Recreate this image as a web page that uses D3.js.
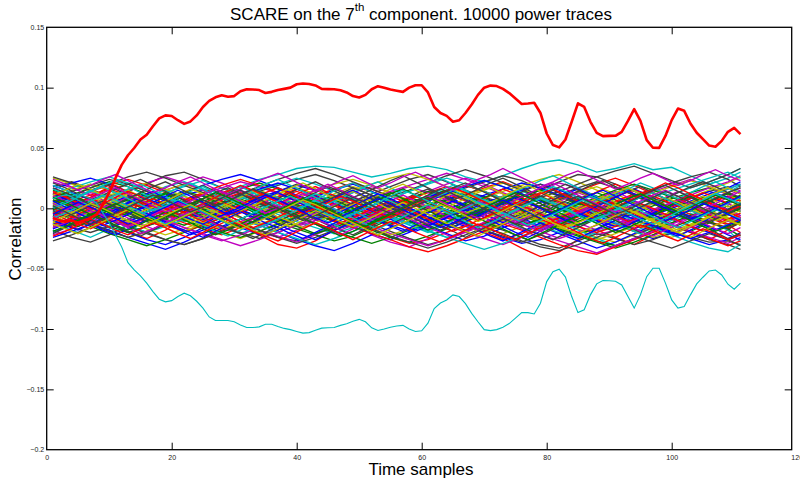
<!DOCTYPE html>
<html lang="en">
    <head>
        <meta charset="utf-8">
        <script type="text/javascript" src="https://cdn.jsdelivr.net/npm/d3@7"></script>
        <title>SCARE correlation</title>
        <style type="text/css">
            body { margin: 0; background: #fff; }
            text { font-family: "Liberation Sans", Arial, Helvetica, sans-serif; }
        </style>
    </head>
    <body>
        <script type="text/javascript">
            var w = 800;
            var h = 482;

            // correct key guess (thick red) and its mirrored trace (cyan), samples 1..111
            var keyTrace = [-0.008,-0.010,-0.011,-0.010,-0.012,-0.010,-0.008,-0.005,0.003,0.013,
                0.025,0.036,0.044,0.050,0.057,0.061,0.068,0.0745,0.077,0.0765,
                0.073,0.070,0.072,0.077,0.084,0.089,0.092,0.0937,0.0925,0.093,
                0.097,0.0987,0.0985,0.098,0.0956,0.0965,0.098,0.099,0.100,0.1028,
                0.1034,0.103,0.1018,0.099,0.0988,0.0987,0.0978,0.096,0.093,0.0918,
                0.094,0.0987,0.1012,0.100,0.0985,0.0975,0.0965,0.100,0.102,0.102,
                0.096,0.084,0.079,0.0766,0.0717,0.073,0.079,0.086,0.094,0.100,
                0.1017,0.1013,0.099,0.0955,0.091,0.0865,0.0869,0.0875,0.079,0.062,
                0.0524,0.0505,0.057,0.0717,0.087,0.084,0.0717,0.0626,0.0598,0.060,
                0.0601,0.0634,0.0725,0.0822,0.0725,0.0565,0.0502,0.0501,0.060,0.0731,
                0.0827,0.0808,0.0703,0.0626,0.0573,0.052,0.051,0.0559,0.0634,0.0667,
                0.0615];

            var mirrorTrace = [0.008,0.010,0.011,0.010,0.012,0.010,0.008,0.004,-0.004,-0.012,
                -0.022,-0.032,-0.045,-0.051,-0.056,-0.062,-0.069,-0.0753,-0.0775,-0.0765,
                -0.073,-0.0703,-0.0725,-0.077,-0.0827,-0.090,-0.093,-0.093,-0.093,-0.094,
                -0.0966,-0.0988,-0.0988,-0.0982,-0.096,-0.096,-0.098,-0.0995,-0.1005,-0.102,
                -0.1034,-0.103,-0.101,-0.0993,-0.099,-0.0988,-0.097,-0.0957,-0.0935,-0.092,
                -0.094,-0.099,-0.1012,-0.100,-0.0985,-0.0975,-0.097,-0.100,-0.102,-0.1015,
                -0.0952,-0.083,-0.0785,-0.0759,-0.0717,-0.0731,-0.079,-0.087,-0.094,-0.1005,
                -0.1013,-0.1005,-0.0985,-0.0955,-0.091,-0.0864,-0.0864,-0.0875,-0.0786,-0.0607,
                -0.0525,-0.0505,-0.057,-0.0731,-0.0864,-0.0841,-0.0717,-0.0626,-0.0599,-0.060,
                -0.0604,-0.0635,-0.0731,-0.0827,-0.0717,-0.0566,-0.0496,-0.0496,-0.062,-0.0759,
                -0.0827,-0.0814,-0.0717,-0.0626,-0.0571,-0.0519,-0.0511,-0.0552,-0.0629,-0.067,
                -0.062];

            // wrong key guesses, read every 3rd sample, values in units of 0.001
            var noiseX = [1,4,7,10,13,16,19,22,25,28,31,34,37,40,43,46,49,52,55,58,61,64,67,70,73,76,79,82,85,88,91,94,97,100,103,106,109,111];
            var noiseTraces = [
                [5,12,8,-3,-10,-6,4,11,15,9,-2,-12,-18,-10,2,8,14,6,-4,-9,-3,7,13,10,0,-8,-15,-11,-2,6,12,16,9,-1,-7,-12,-5,3],
                [-8,-4,3,9,6,-2,-9,-14,-8,1,7,12,9,2,-5,-11,-16,-12,-4,3,10,15,11,4,-3,-9,-6,2,8,13,7,-1,-8,-14,-19,-12,-3,4],
                [12,6,-3,-12,-20,-25,-18,-8,2,-5,-14,-22,-30,-33,-27,-18,-10,-16,-24,-29,-26,-20,-14,-18,-25,-33,-40,-36,-26,-18,-24,-30,-22,-14,-20,-26,-18,-10],
                [8,14,20,15,6,10,18,22,16,12,18,24,28,33,35,34,30,26,29,33,35,32,26,22,27,33,38,40,36,30,33,37,32,34,27,20,25,30],
                [-15,-10,-2,6,14,20,16,8,0,-6,-14,-20,-24,-18,-10,-4,-12,-22,-28,-32,-25,-16,-8,-2,6,12,4,-6,-15,-22,-18,-10,-3,5,11,6,-2,-8],
                [2,-6,-12,-18,-24,-20,-12,-4,4,10,6,-2,-8,-3,5,12,18,14,6,-1,-7,-12,-6,2,8,4,-4,-10,-17,-24,-28,-22,-14,-6,0,-5,-10,-4],
                [18,22,16,10,14,20,27,30,24,17,12,8,14,20,16,10,6,12,18,24,28,22,15,9,5,10,16,22,28,26,20,14,8,4,9,14,18,12],
                [-20,-14,-6,-12,-20,-26,-30,-24,-16,-10,-16,-22,-18,-10,-4,-9,-15,-21,-26,-20,-13,-7,-12,-18,-24,-29,-26,-20,-14,-8,-13,-19,-25,-21,-15,-20,-26,-22],
                [10,4,-2,-8,-4,3,9,14,10,4,-2,-7,-12,-17,-22,-27,-23,-16,-9,-4,2,7,12,8,2,-4,-10,-16,-21,-17,-10,-4,2,8,13,17,12,6],
                [-2,3,9,15,20,14,7,1,-5,-10,-4,3,10,16,11,4,-3,-9,-14,-8,-1,5,11,17,22,16,8,0,-7,-2,5,11,16,10,3,-4,-10,-6],
                [-12,-18,-24,-17,-9,-3,3,-3,-10,-16,-21,-15,-8,-2,5,11,6,-1,-8,-14,-19,-24,-19,-12,-5,1,-4,-11,-18,-25,-31,-26,-18,-10,-4,-11,-18,-28],
                [14,9,3,-2,4,10,15,20,26,21,14,7,2,-4,1,7,13,18,13,6,0,-6,-11,-5,2,9,15,21,17,10,4,-2,-8,-3,4,10,16,20],
                [-5,1,7,3,-3,-9,-15,-10,-3,4,10,15,9,3,-3,-8,-2,5,11,6,-1,-7,-13,-18,-12,-5,2,8,13,18,12,5,-2,-9,-15,-10,-3,2],
                [-18,-24,-28,-22,-14,-20,-26,-30,-25,-18,-12,-18,-24,-27,-21,-14,-8,-13,-19,-25,-30,-26,-19,-13,-18,-24,-30,-33,-27,-21,-25,-30,-26,-20,-24,-28,-27,-30],
                [0,-6,-11,-16,-11,-5,1,6,11,5,-1,-7,-3,4,10,15,20,14,7,0,-5,-10,-15,-20,-14,-7,0,6,1,-6,-12,-17,-11,-4,3,9,4,-2],
                [6,11,17,22,18,12,6,0,-6,-2,5,11,7,1,-5,-10,-15,-9,-2,5,10,15,19,14,8,2,-4,-9,-4,3,9,4,-3,-9,-14,-8,-1,5],
                [-10,-15,-8,-1,5,0,-6,-12,-17,-22,-16,-9,-3,3,8,2,-4,-10,-6,1,7,12,6,0,-6,-12,-18,-14,-7,0,6,12,7,1,-5,-11,-16,-12],
                [3,-3,-8,-4,2,8,13,18,23,17,10,3,-3,-9,-5,2,8,3,-4,-10,-16,-11,-4,3,9,14,9,3,-3,-9,-14,-19,-13,-6,1,7,13,19],
                [22,17,11,5,0,-6,-1,6,12,17,22,18,12,6,0,-5,-11,-6,1,8,14,20,25,20,13,7,1,-5,-11,-7,0,7,14,19,24,18,11,15],
                [-14,-9,-3,3,9,4,-2,-8,-14,-20,-25,-19,-12,-6,0,-5,-11,-17,-12,-5,1,-4,-10,-16,-21,-15,-8,-2,4,-1,-7,-13,-19,-24,-18,-11,-5,-9],
                [8,14,19,24,20,14,8,3,-2,4,9,14,19,24,28,23,17,11,6,1,6,12,17,22,27,23,16,10,4,-1,4,10,16,21,26,30,24,18],
                [-24,-19,-13,-18,-24,-29,-34,-28,-21,-15,-9,-14,-20,-26,-31,-35,-29,-22,-16,-10,-15,-21,-27,-23,-16,-10,-15,-21,-27,-33,-28,-21,-14,-19,-25,-30,-26,-20],
                [15,10,4,-1,-6,-11,-6,0,6,11,16,21,16,10,4,-1,-7,-3,3,9,4,-2,-8,-3,3,9,15,11,5,-1,-7,-12,-17,-12,-6,0,6,11],
                [4,9,14,19,24,19,13,7,13,19,24,19,13,7,1,-5,-10,-5,1,7,13,18,13,7,1,-4,2,8,14,20,25,19,12,6,0,5,10,6],
                [-6,0,6,12,7,1,-5,-11,-6,0,6,1,-5,-11,-16,-21,-16,-10,-4,2,8,13,8,2,-4,-10,-15,-20,-25,-20,-13,-7,-1,5,-1,-7,-13,-9],
                [11,5,-1,-7,-12,-8,-2,4,-1,-7,-13,-18,-23,-28,-22,-15,-8,-2,4,-2,-8,-14,-20,-25,-30,-24,-17,-10,-4,2,-3,-9,-15,-21,-16,-10,-4,1],
                [25,20,14,8,3,9,15,20,15,9,3,-2,3,9,15,20,24,19,13,7,2,-3,2,8,14,19,24,28,22,15,9,3,-2,3,9,15,21,26],
                [-1,-7,-13,-19,-24,-19,-13,-7,-1,5,11,6,0,-6,-12,-18,-13,-7,-1,5,0,-6,-12,-18,-23,-28,-22,-15,-9,-3,3,-2,-8,-14,-20,-26,-30,-34],
                [16,21,25,20,14,8,2,-3,-8,-3,3,9,14,19,15,9,3,-2,-7,-12,-7,-1,5,11,16,21,17,11,5,-1,-6,-11,-6,0,6,12,17,22],
                [-16,-11,-5,1,7,2,-4,-10,-15,-20,-24,-19,-13,-7,-1,-6,-12,-18,-24,-28,-23,-17,-11,-5,0,-5,-11,-17,-22,-27,-31,-25,-18,-12,-6,-11,-17,-23],
                [0,6,11,16,11,5,-1,-7,-13,-18,-13,-7,-1,5,11,16,21,16,10,4,-2,-8,-14,-20,-26,-21,-14,-8,-2,4,10,15,10,4,-2,-8,-14,-20],
                [9,3,-3,-9,-14,-20,-15,-9,-3,3,9,15,20,25,20,14,8,2,-4,1,7,13,18,23,18,12,6,0,-6,-12,-7,-1,5,11,17,22,28,33],
                [-9,-3,3,9,15,21,26,21,15,9,3,-3,-9,-15,-10,-4,2,8,14,19,24,29,24,18,12,6,0,-6,-12,-18,-13,-7,-1,5,11,17,22,27],
                [13,7,1,-5,-11,-17,-22,-17,-11,-5,1,7,12,17,12,6,0,-6,-12,-7,-1,5,11,16,21,16,10,4,-2,-8,-14,-19,-24,-19,-13,-7,-1,4],
                [-11,-16,-20,-15,-9,-3,2,-3,-9,-15,-20,-25,-20,-14,-8,-2,4,10,5,-1,-7,-13,-18,-13,-7,-1,5,11,17,22,17,11,5,-1,-7,-12,-17,-12],
                [19,13,7,1,-4,1,7,13,19,24,28,23,17,11,5,-1,-6,-11,-6,0,6,12,18,23,18,12,6,0,-5,-10,-15,-10,-4,2,8,14,9,3],
                [-3,-9,-15,-21,-26,-31,-26,-20,-14,-8,-2,4,-1,-7,-13,-19,-24,-29,-24,-18,-12,-6,0,5,0,-6,-12,-18,-23,-28,-33,-28,-22,-16,-10,-4,2,-3],
                [7,2,-4,-10,-15,-10,-4,2,8,13,18,13,7,1,-5,-11,-16,-21,-26,-32,-36,-31,-25,-19,-13,-18,-24,-30,-35,-38,-32,-26,-20,-14,-19,-25,-31,-27],
                [-19,-13,-7,-1,5,10,15,10,4,-2,-8,-14,-20,-25,-30,-25,-19,-13,-7,-12,-18,-24,-29,-34,-29,-23,-17,-11,-5,1,-4,-10,-16,-22,-28,-33,-36,-30],
                [3,8,13,8,2,-4,-10,-16,-21,-26,-31,-26,-20,-14,-8,-2,3,8,13,18,13,7,1,-5,-11,-17,-22,-27,-32,-37,-31,-25,-19,-13,-7,-1,4,-1],
                [-7,-1,5,11,16,21,16,10,4,-2,-8,-13,-8,-2,4,10,15,20,25,29,24,18,12,6,0,-6,-11,-16,-11,-5,1,7,13,18,23,18,12,6],
                [26,21,15,20,26,30,25,19,13,7,12,18,24,29,33,28,22,16,10,15,21,27,32,27,21,15,9,14,20,26,31,35,29,23,17,22,28,33],
                [-13,-8,-2,4,10,5,-1,-7,-2,4,10,16,21,16,10,4,-2,-8,-14,-19,-14,-8,-2,4,10,15,20,15,9,3,-3,-9,-15,-20,-25,-20,-14,-8],
                [1,-5,-10,-15,-20,-15,-9,-3,3,8,3,-3,-9,-15,-21,-16,-10,-4,2,8,14,9,3,-3,-9,-14,-9,-3,3,9,15,20,15,9,3,-3,-9,-14],
                [-4,2,8,3,-3,-9,-14,-19,-14,-8,-2,4,9,14,9,3,-3,-9,-4,2,8,14,19,14,8,2,-4,-10,-15,-20,-15,-9,-3,3,9,4,-2,-8],
                [12,17,22,26,21,15,9,3,-3,2,8,14,9,3,-3,-9,-4,2,8,14,20,25,20,14,8,2,-4,-9,-14,-9,-3,3,9,15,20,25,30,25],
                [-22,-17,-11,-5,1,-4,-10,-16,-22,-27,-22,-16,-10,-4,2,-3,-9,-15,-21,-26,-31,-26,-20,-14,-8,-13,-19,-25,-20,-14,-8,-2,-7,-13,-19,-24,-29,-24],
                [9,15,20,15,9,3,-2,-7,-12,-17,-12,-6,0,6,1,-5,-11,-17,-22,-17,-11,-5,1,7,2,-4,-10,-16,-21,-26,-21,-15,-9,-3,3,-2,-8,-14],
                [-27,-22,-16,-10,-15,-21,-26,-30,-25,-19,-13,-18,-24,-29,-24,-18,-12,-17,-23,-28,-33,-28,-22,-16,-21,-27,-32,-35,-30,-24,-18,-23,-28,-33,-27,-21,-26,-31]
            ];

            // more wrong guesses, read every 2nd sample (units of 0.001)
            var noiseX2 = [1,3,5,7,9,11,13,15,17,19,21,23,25,27,29,31,33,35,37,39,41,43,45,47,49,51,53,55,57,59,61,63,65,67,69,71,73,75,77,79,81,83,85,87,89,91,93,95,97,99,101,103,105,107,109,111];
            var noiseTraces2 = [
                [4,9,6,-2,-7,-3,5,10,14,8,1,-4,-9,-5,2,7,3,-3,-8,-12,-6,0,6,11,7,2,-3,-7,-2,4,9,13,8,2,-4,-1,5,10,6,0,-5,-10,-14,-9,-3,3,8,4,-2,-6,-1,5,9,4,-1,-6],
                [-6,-11,-15,-10,-4,1,-3,-8,-4,2,7,3,-2,-7,-12,-16,-11,-5,0,5,1,-4,-9,-5,1,6,11,7,1,-5,-10,-6,-1,4,8,3,-2,-8,-13,-9,-3,2,7,12,8,2,-3,-9,-5,0,6,2,-4,-9,-5,0],
                [14,10,5,9,15,19,13,7,2,-3,2,7,12,8,3,-2,-7,-3,3,9,14,18,13,8,3,-2,-6,-1,4,10,6,0,-5,-1,5,11,16,12,6,1,-4,0,6,11,16,20,15,9,4,-1,3,8,13,9,4,7],
                [-3,2,-2,-8,-13,-18,-14,-9,-4,1,-4,-9,-14,-19,-23,-18,-12,-7,-2,3,-1,-6,-11,-16,-12,-7,-2,-6,-11,-16,-20,-15,-10,-5,0,-4,-9,-14,-18,-13,-8,-3,2,-2,-7,-12,-17,-21,-16,-10,-5,-9,-14,-18,-13,-8],
                [10,6,1,-4,0,5,9,4,-1,-6,-10,-5,0,5,10,15,11,6,1,-3,-8,-4,1,6,2,-3,-8,-13,-9,-4,1,6,11,7,2,-3,-8,-12,-7,-2,3,8,13,9,4,-1,-5,-1,4,9,14,10,5,0,-4,1],
                [-12,-8,-3,2,7,3,-2,-7,-12,-16,-21,-17,-12,-7,-2,3,-1,-6,-11,-15,-10,-5,0,4,-1,-6,-10,-5,0,5,1,-4,-9,-14,-19,-15,-10,-5,0,-5,-10,-15,-11,-6,-1,4,0,-5,-10,-14,-18,-14,-9,-4,-8,-13],
                [2,7,12,17,21,16,11,6,1,5,10,15,19,14,9,4,-1,3,8,13,18,22,17,12,7,2,-2,2,7,12,16,11,6,1,-3,1,6,11,16,20,15,10,5,0,4,9,14,18,13,8,3,-2,3,8,13,17],
                [-17,-13,-8,-13,-18,-22,-17,-12,-7,-11,-16,-20,-24,-19,-14,-9,-4,-8,-13,-18,-22,-26,-21,-16,-11,-6,-10,-15,-19,-14,-9,-4,-8,-13,-18,-23,-27,-22,-17,-12,-16,-21,-25,-20,-15,-10,-5,-9,-14,-19,-23,-18,-13,-17,-22,-26],
                [7,3,-2,-6,-2,3,8,12,8,3,-1,-6,-2,3,7,2,-3,-7,-11,-6,-1,4,9,5,0,-4,-9,-13,-8,-3,2,7,3,-2,-6,-1,4,8,12,7,2,-3,1,6,10,5,0,-5,-9,-5,0,5,9,4,-1,3],
                [0,-5,-9,-14,-10,-5,0,5,1,-4,-9,-5,0,4,9,13,8,3,-2,-7,-3,2,-2,-7,-12,-8,-3,2,7,11,6,1,-4,-9,-14,-10,-5,0,-4,-9,-13,-8,-3,2,7,3,-2,-7,-3,2,7,12,7,2,-3,-8],
                [19,15,10,14,19,23,18,13,8,12,17,21,16,11,6,10,15,20,24,19,14,9,4,8,13,18,22,17,12,16,21,25,20,15,10,5,9,14,18,23,27,22,17,12,7,11,16,21,17,12,8,13,18,22,17,13],
                [-9,-4,1,6,2,-3,-8,-13,-17,-12,-7,-2,3,-1,-6,-11,-7,-2,3,8,12,7,2,-3,-8,-4,1,6,11,6,1,-4,-9,-14,-18,-13,-8,-3,1,-4,-9,-5,0,5,10,14,9,4,-1,-6,-11,-7,-2,3,-1,-6],
                [5,0,-4,1,6,11,15,10,5,0,-5,-10,-6,-1,4,9,14,10,5,0,-4,0,5,10,14,9,4,-1,-6,-11,-7,-2,3,8,13,17,12,7,2,-3,-8,-4,1,6,10,5,0,-5,-9,-5,0,5,10,6,1,5],
                [-21,-16,-11,-6,-10,-15,-19,-23,-18,-13,-8,-3,-7,-12,-17,-21,-25,-20,-15,-10,-5,-9,-14,-18,-22,-17,-12,-7,-2,-6,-11,-15,-19,-24,-19,-14,-9,-13,-18,-22,-26,-21,-16,-11,-6,-10,-15,-20,-16,-11,-6,-10,-15,-20,-25,-21],
                [12,8,3,-2,-6,-1,4,9,5,0,-5,-9,-13,-8,-3,2,7,11,6,1,-3,1,6,11,15,10,5,0,-5,-9,-4,1,6,2,-3,-7,-12,-8,-3,2,7,12,16,11,6,1,-4,-8,-3,2,-2,-7,-11,-6,-1,4],
                [-1,4,8,4,-1,-6,-2,3,8,13,9,4,-1,-6,-10,-15,-11,-6,-1,4,9,5,0,-5,-1,4,9,13,8,3,-2,-7,-3,2,7,11,6,1,-4,-8,-4,1,5,0,-5,-10,-14,-9,-4,1,6,10,5,0,-4,0],
                [-14,-10,-5,0,-4,-9,-14,-10,-5,-1,4,9,4,-1,-6,-11,-16,-12,-7,-2,3,-2,-7,-12,-8,-3,2,6,1,-4,-9,-14,-19,-15,-10,-5,0,5,0,-5,-10,-6,-1,4,-1,-6,-11,-16,-12,-7,-2,2,-3,-8,-13,-9],
                [16,12,7,2,6,11,16,20,15,10,5,0,4,9,14,18,13,8,3,-2,2,7,12,17,21,16,11,6,1,5,10,15,19,14,9,4,-1,3,8,13,18,14,9,4,8,13,17,12,7,2,-2,2,7,12,16,20],
                [-7,-2,3,-1,-6,-11,-15,-10,-5,0,5,1,-4,-9,-5,0,5,10,6,1,-4,-9,-13,-18,-14,-9,-4,1,-3,-8,-13,-9,-4,1,6,2,-3,-8,-12,-17,-13,-8,-3,2,-2,-7,-12,-8,-3,2,7,3,-2,-7,-11,-7],
                [3,-2,-7,-3,2,7,12,8,3,-2,-7,-12,-8,-3,2,7,3,-2,-7,-11,-16,-12,-7,-2,3,8,4,-1,-6,-2,3,8,13,9,4,-1,-6,-10,-6,-1,4,9,14,10,5,0,-5,-1,4,9,5,0,-5,-10,-6,-2],
                [21,17,12,7,11,16,20,24,19,14,9,4,8,13,17,12,7,2,-2,3,8,13,18,14,9,13,18,23,27,22,17,12,7,11,16,21,25,20,15,10,5,9,14,19,23,18,13,8,4,8,13,18,22,18,13,9],
                [-10,-14,-18,-13,-8,-3,2,-2,-7,-12,-17,-22,-18,-13,-8,-3,-7,-12,-16,-21,-25,-20,-15,-10,-5,0,-4,-9,-14,-19,-15,-10,-5,-1,-5,-10,-15,-20,-24,-19,-14,-9,-4,-8,-13,-18,-14,-9,-4,1,-3,-8,-13,-18,-14,-10],
                [8,13,9,4,-1,-6,-2,3,8,12,7,2,-3,-8,-13,-9,-4,1,6,11,7,2,-3,-7,-3,2,7,12,16,11,6,1,-4,-9,-5,0,5,10,6,1,-4,-9,-14,-10,-5,0,5,9,4,-1,-6,-2,3,8,12,8],
                [-4,-9,-13,-17,-12,-7,-2,3,8,4,-1,-6,-11,-7,-2,3,8,13,17,12,7,2,-3,-7,-12,-16,-11,-6,-1,4,9,5,0,-5,-10,-6,-1,4,9,13,8,3,-2,-7,-11,-6,-1,4,0,-5,-10,-15,-19,-14,-9,-4],
                [1,6,10,15,10,5,0,-5,-1,4,9,14,18,13,8,3,-2,-7,-3,2,7,12,8,3,-2,-7,-12,-8,-3,2,7,11,15,10,5,0,-5,-1,4,9,5,0,-5,-10,-6,-1,4,9,13,8,3,-2,-6,-1,4,9],
                [-16,-12,-7,-2,-6,-11,-16,-21,-17,-12,-7,-3,-8,-13,-18,-14,-9,-4,1,-3,-8,-13,-18,-22,-17,-12,-7,-2,-6,-11,-16,-20,-24,-19,-14,-9,-5,-10,-15,-19,-14,-9,-4,0,-4,-9,-14,-19,-23,-18,-13,-8,-12,-17,-21,-16],
                [11,15,20,16,11,6,1,-3,1,6,11,16,12,7,2,-2,2,7,12,17,21,16,11,6,2,6,11,16,20,15,10,5,0,-4,0,5,10,15,19,14,9,4,-1,3,8,13,17,12,7,2,-2,3,8,13,17,12],
                [-2,-7,-3,2,6,1,-4,-9,-13,-8,-3,2,7,3,-2,-7,-12,-8,-3,1,-4,-9,-5,0,5,10,6,1,-4,-9,-14,-18,-13,-8,-3,2,-2,-7,-3,2,7,12,7,2,-3,-8,-4,1,6,2,-3,-8,-13,-9,-4,1],
                [6,1,-4,-9,-14,-10,-5,0,5,10,15,10,5,0,-5,-1,4,9,13,8,3,-2,-7,-3,2,7,12,8,3,-2,-7,-12,-16,-11,-6,-1,4,9,5,0,-5,-10,-6,-1,4,9,14,10,5,0,-5,-9,-5,0,5,10],
                [-19,-15,-10,-5,-9,-14,-18,-13,-8,-3,-7,-12,-17,-22,-18,-13,-8,-3,1,-3,-8,-13,-18,-23,-19,-14,-9,-4,-8,-13,-18,-14,-9,-4,-8,-13,-17,-22,-26,-21,-16,-11,-6,-10,-15,-20,-16,-11,-6,-1,-5,-10,-15,-19,-15,-11],
                [13,9,4,0,4,9,14,10,5,0,-5,-1,4,9,14,19,15,10,5,0,-4,0,5,10,6,1,-4,-8,-3,2,7,12,17,13,8,3,-2,2,7,12,16,11,6,1,-3,1,6,11,16,21,17,12,7,2,-2,2],
                [-8,-4,1,6,11,7,2,-3,-8,-13,-9,-4,1,-3,-8,-13,-18,-14,-9,-4,1,6,2,-3,-8,-13,-17,-12,-7,-2,3,-1,-6,-11,-16,-12,-7,-2,3,8,4,-1,-6,-11,-7,-2,3,-2,-7,-12,-16,-11,-6,-1,-5,-9],
                [4,-1,3,8,13,17,12,7,2,-3,1,6,11,16,11,6,1,-4,0,5,10,15,20,15,10,5,0,-4,0,5,10,6,1,-4,-8,-3,2,7,12,17,21,16,11,6,1,-3,1,6,11,15,10,5,0,4,9,14],
                [-13,-17,-21,-16,-11,-6,-1,-5,-10,-14,-9,-4,1,-3,-8,-13,-18,-22,-17,-12,-7,-2,-6,-11,-15,-10,-5,0,5,0,-5,-10,-15,-19,-23,-18,-13,-8,-3,-7,-12,-17,-21,-16,-11,-6,-1,-5,-10,-15,-20,-24,-19,-14,-10,-14],
                [17,13,8,3,-1,3,8,13,18,22,17,12,7,2,6,11,16,12,7,2,-2,2,7,12,17,13,8,3,-2,2,7,12,17,21,16,11,6,1,5,10,15,20,15,10,5,1,5,10,15,19,14,9,4,8,13,17],
                [-5,0,5,1,-4,-8,-13,-9,-4,1,6,2,-3,-8,-4,1,6,11,7,2,-3,-8,-12,-7,-2,3,8,4,-1,-6,-11,-16,-12,-7,-2,3,7,2,-3,-8,-4,1,6,11,15,10,5,0,-5,-10,-6,-1,4,0,-5,-10],
                [9,5,0,-5,-1,4,-1,-6,-11,-7,-2,3,8,13,9,4,-1,-6,-2,3,8,4,-1,-6,-11,-15,-10,-5,0,5,9,4,-1,-6,-2,3,8,13,9,4,-1,-6,-11,-7,-2,3,8,12,7,2,-3,1,6,11,7,2],
                [-23,-19,-14,-9,-13,-18,-22,-17,-12,-16,-21,-25,-20,-15,-10,-14,-19,-23,-27,-22,-17,-12,-16,-21,-26,-21,-16,-11,-15,-20,-24,-28,-23,-18,-13,-17,-22,-26,-21,-16,-11,-15,-20,-25,-29,-24,-19,-14,-18,-23,-27,-22,-17,-21,-26,-22],
                [0,4,9,14,18,13,8,3,-2,2,7,2,-3,-8,-13,-9,-4,1,6,10,5,0,-5,-9,-5,0,5,10,15,11,6,1,-4,0,5,1,-4,-9,-14,-10,-5,0,5,10,6,1,-4,-9,-13,-8,-3,2,7,12,8,4],
                [24,20,15,19,24,28,23,18,13,17,22,26,21,16,12,16,21,25,29,24,19,14,18,23,27,22,17,21,26,30,25,20,15,19,24,28,33,28,23,18,22,27,31,26,21,16,20,25,29,24,19,23,28,32,27,23],
                [-11,-6,-1,4,0,-5,-10,-15,-11,-6,-1,3,-2,-7,-12,-17,-13,-8,-3,2,7,3,-2,-7,-12,-17,-22,-17,-12,-7,-2,3,-1,-6,-11,-7,-2,3,-2,-7,-12,-16,-12,-7,-2,3,-1,-6,-11,-16,-20,-15,-10,-5,-9,-14],
                [2,-3,-8,-13,-9,-4,1,6,11,7,2,-3,1,6,11,15,10,5,0,-5,-10,-6,-1,4,9,5,0,-4,1,6,11,16,12,7,2,-3,-8,-13,-9,-4,1,6,10,5,0,-5,-1,4,9,14,10,5,0,-5,-1,4]
            ];

            // matlab default line colour order
            var colorOrder = ["#0000ff","#008000","#ff0000","#00bfbf","#bf00bf","#bfbf00","#404040"];

            var xTicks = [0,20,40,60,80,100,120];
            var yTicks = [-0.2,-0.15,-0.1,-0.05,0,0.05,0.1,0.15];
            var yTickLabels = ["\u22120.2","\u22120.15","\u22120.1","\u22120.05","0","0.05","0.1","0.15"];

            var padL = 46.7, padR = 791.7, padT = 27.3, padB = 449.7;

            var xScale = d3.scaleLinear()
                            .domain([0,120])
                            .range([padL, 796.7]); // the frame stops a bit short of 120

            var yScale = d3.scaleLinear()
                            .domain([-0.2,0.15])
                            .range([padB, padT]);

            var svg = d3.select("body")
                        .append("svg")
                        .attr("width", w)
                        .attr("height", h)
                        .style("display", "block");

            var plot = svg.append("g");

            function drawNoise(xs, traces, cls) {
                var line = d3.line()
                            .defined(function(d,i){ return i < xs.length; })
                            .x(function(d,i){ return xScale(xs[i]); })
                            .y(function(d){ return yScale(d/1000); });
                plot.selectAll("path." + cls)
                    .data(traces)
                    .enter()
                    .append("path")
                    .attr("class", cls)
                    .attr("d", line)
                    .attr("fill", "none")
                    .attr("stroke", function(d,i){ return colorOrder[i % colorOrder.length]; })
                    .attr("stroke-width", 1.35);
            }

            drawNoise(noiseX, noiseTraces, "noiseA");
            drawNoise(noiseX2, noiseTraces2, "noiseB");

            var traceLine = d3.line()
                            .x(function(d,i){ return xScale(i+1); })
                            .y(function(d){ return yScale(d); });

            plot.append("path")
                .attr("d", traceLine(mirrorTrace))
                .attr("fill", "none")
                .attr("stroke", "#00bfbf")
                .attr("stroke-width", 1.1);

            plot.append("path")
                .attr("d", traceLine(keyTrace))
                .attr("fill", "none")
                .attr("stroke", "#ff0000")
                .attr("stroke-width", 2.6)
                .attr("stroke-linejoin", "round");

            // axes, ticks pointing inwards on all four sides
            var xAxis = svg.append("g")
                        .attr("transform", "translate(0," + padB + ")")
                        .call(d3.axisBottom(xScale).tickValues(xTicks).tickSizeInner(-7).tickSizeOuter(0).tickPadding(5));
            svg.append("g")
                .attr("transform", "translate(0," + padT + ")")
                .call(d3.axisTop(xScale).tickValues(xTicks.slice(1,-1)).tickSizeInner(-7).tickSizeOuter(0).tickFormat(""));
            var yAxis = svg.append("g")
                        .attr("transform", "translate(" + padL + ",0)")
                        .call(d3.axisLeft(yScale).tickValues(yTicks).tickSizeInner(-7).tickSizeOuter(0).tickPadding(2.5)
                            .tickFormat(function(d,i){ return yTickLabels[i]; }));
            svg.append("g")
                .attr("transform", "translate(" + padR + ",0)")
                .call(d3.axisRight(yScale).tickValues(yTicks.slice(1,-1)).tickSizeInner(-7).tickSizeOuter(0).tickFormat(""));

            svg.selectAll(".domain").remove();
            svg.selectAll(".tick line").attr("stroke", "#000").attr("stroke-width", 1);
            svg.selectAll(".tick text")
                .attr("font-size", "7px")
                .attr("fill", "#222")
                .style("font-family", "'Liberation Sans', Arial, Helvetica, sans-serif");
            xAxis.selectAll(".tick line").filter(function(d){ return d === 0 || d === 120; }).remove();
            yAxis.selectAll(".tick line").filter(function(d){ return d === -0.2 || d === 0.15; }).remove();

            // box
            svg.append("rect")
                .attr("x", padL)
                .attr("y", padT)
                .attr("width", padR - padL)
                .attr("height", padB - padT)
                .attr("fill", "none")
                .attr("stroke", "#000")
                .attr("stroke-width", 1.3);

            // title with superscript
            var title = svg.append("text")
                        .attr("x", 421)
                        .attr("y", 19.5)
                        .attr("text-anchor", "middle")
                        .attr("font-size", "17px")
                        .attr("fill", "#000");
            title.append("tspan").text("SCARE on the 7");
            title.append("tspan").attr("dy", -8.5).attr("font-size", "11.5px").text("th");
            title.append("tspan").attr("dy", 8.5).text(" component. 10000 power traces");

            svg.append("text")
                .attr("x", 421)
                .attr("y", 475)
                .attr("text-anchor", "middle")
                .attr("font-size", "17px")
                .attr("fill", "#000")
                .text("Time samples");

            svg.append("text")
                .attr("transform", "translate(20.5,239) rotate(-90)")
                .attr("text-anchor", "middle")
                .attr("font-size", "17px")
                .attr("fill", "#000")
                .text("Correlation");
        </script>
    </body>
</html>
